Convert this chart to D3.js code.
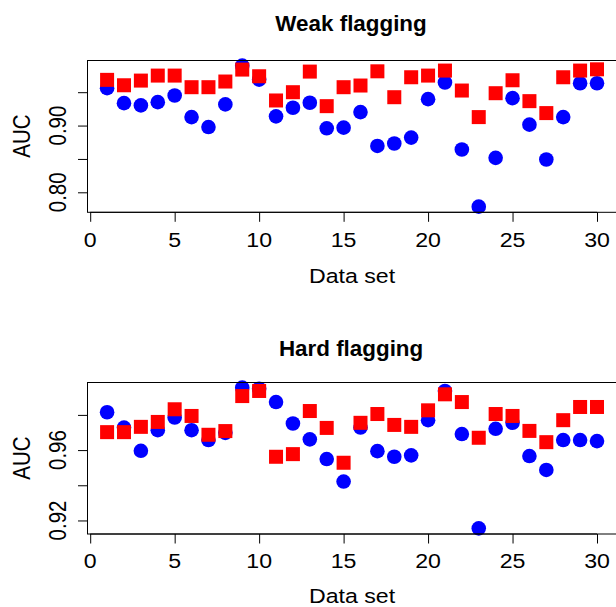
<!DOCTYPE html>
<html>
<head>
<meta charset="utf-8">
<script src="https://cdn.jsdelivr.net/npm/d3@7"></script>
<style>
  html, body { margin: 0; padding: 0; background: #fff; }
  svg { display: block; }
  text { font-family: "Liberation Sans", Arial, Helvetica, sans-serif; fill: #000; }
</style>
</head>
<body>
<svg id="chart" width="616" height="607"></svg>
<script>
// ---- data ----
const dataSets = d3.range(1, 31);
const xTickValues = [0, 5, 10, 15, 20, 25, 30];

const weakTitle = "Weak flagging";
const weakBlue = [0.956, 0.9336, 0.9302, 0.9351, 0.9451, 0.9127, 0.8978, 0.9317, 0.9898, 0.9689,
                  0.9138, 0.9267, 0.9342, 0.8959, 0.8969, 0.9202, 0.8695, 0.8731, 0.8820, 0.9396,
                  0.9645, 0.8641, 0.7785, 0.8516, 0.9411, 0.9014, 0.8492, 0.9127, 0.9634, 0.9634];
const weakRed  = [0.9685, 0.9604, 0.9674, 0.9749, 0.9749, 0.9575, 0.9575, 0.9660, 0.9839, 0.9739,
                  0.9376, 0.9500, 0.9809, 0.9291, 0.9575, 0.9600, 0.9813, 0.9425, 0.9724, 0.9749,
                  0.9824, 0.9525, 0.9127, 0.9485, 0.9679, 0.9366, 0.9187, 0.9724, 0.9824, 0.9843];
const weakYTicks = [0.80, 0.85, 0.90, 0.95];
const weakYTickLabels = ["0.80", "", "0.90", ""];

const hardTitle = "Hard flagging";
const hardBlue = [0.9815, 0.9728, 0.9596, 0.9713, 0.9785, 0.9713, 0.9657, 0.9698, 0.9955, 0.9949,
                  0.9873, 0.9751, 0.9661, 0.9549, 0.9421, 0.9728, 0.9594, 0.9562, 0.9570, 0.9770,
                  0.9936, 0.9691, 0.9155, 0.9721, 0.9755, 0.9566, 0.9487, 0.9657, 0.9657, 0.9651];
const hardRed  = [0.9702, 0.9702, 0.9732, 0.9760, 0.9832, 0.9794, 0.9687, 0.9708, 0.9907, 0.9936,
                  0.9562, 0.9577, 0.9822, 0.9726, 0.9528, 0.9755, 0.9805, 0.9743, 0.9732, 0.9826,
                  0.9917, 0.9873, 0.9670, 0.9805, 0.9794, 0.9709, 0.9645, 0.9770, 0.9845, 0.9845];
const hardYTicks = [0.92, 0.94, 0.96, 0.98];
const hardYTickLabels = ["0.92", "", "0.96", ""];

const xLabel = "Data set";
const yLabel = "AUC";

// ---- layout ----
const svg = d3.select("#chart");
const SX = 1.13;           // horizontal stretch of the reference text
const FS = 20.5;
const left = 87.5, right = 616.6;

function rPad(ext) { const d = ext[1] - ext[0]; return [ext[0] - 0.04 * d, ext[1] + 0.04 * d]; }

const x = d3.scaleLinear().domain(rPad([1, 30])).range([left, right]);

function htext(g, str, tx, ty, opts = {}) {
  const t = g.append("text")
    .attr("transform", `translate(${tx},${ty}) scale(${opts.sx ?? SX},1)`)
    .attr("text-anchor", "middle")
    .style("font-size", (opts.size ?? FS) + "px")
    .text(str);
  if (opts.bold) t.style("font-weight", "bold");
  return t;
}
function vtext(g, str, tx, ty, opts = {}) {
  return g.append("text")
    .attr("transform", `translate(${tx},${ty}) scale(${SX},1) rotate(-90)`)
    .attr("text-anchor", "middle")
    .style("font-size", (opts.size ?? FS) + "px")
    .text(str);
}

const panels = [
  { title: weakTitle, blue: weakBlue, red: weakRed, ticks: weakYTicks, labels: weakYTickLabels,
    top: 60, bottom: 212.3, titleY: 31, tickLabY: 246.7, xLabY: 282.7 },
  { title: hardTitle, blue: hardBlue, red: hardRed, ticks: hardYTicks, labels: hardYTickLabels,
    top: 382, bottom: 534, titleY: 355.5, tickLabY: 568, xLabY: 602.8 }
];

panels.forEach(p => {
  const g = svg.append("g");
  const all = p.blue.concat(p.red);
  const y = d3.scaleLinear().domain(rPad(d3.extent(all))).range([p.bottom, p.top]);
  const cy = (p.top + p.bottom) / 2;
  const cx = (left + right) / 2;

  // points: blue circles then red squares
  g.append("g").selectAll("circle").data(dataSets).join("circle")
    .attr("cx", d => x(d))
    .attr("cy", (d, i) => y(p.blue[i]))
    .attr("r", 7.3)
    .attr("fill", "#0000ff");
  const s = 14;
  g.append("g").selectAll("rect").data(dataSets).join("rect")
    .attr("x", d => x(d) - s / 2)
    .attr("y", (d, i) => y(p.red[i]) - s / 2)
    .attr("width", s).attr("height", s)
    .attr("fill", "#ff0000");

  // box
  g.append("rect")
    .attr("x", left).attr("y", Math.round(p.top) + 0.5)
    .attr("width", right - left).attr("height", p.bottom - Math.round(p.top) - 0.5)
    .attr("fill", "none").attr("stroke", "#000").attr("stroke-width", 1);

  // x axis
  const xa = g.append("g").attr("transform", `translate(0,${p.bottom})`)
    .call(d3.axisBottom(x).tickValues(xTickValues).tickSize(9.5).tickFormat(""));
  xa.select(".domain").remove();
  xa.selectAll("line").attr("stroke", "#000");
  g.append("line")
    .attr("x1", x(xTickValues[0])).attr("x2", x(xTickValues[xTickValues.length - 1]))
    .attr("y1", p.bottom).attr("y2", p.bottom).attr("stroke", "#000");
  xTickValues.forEach(v => htext(g, String(v), x(v), p.tickLabY));

  // y axis
  const ya = g.append("g").attr("transform", `translate(${left},0)`)
    .call(d3.axisLeft(y).tickValues(p.ticks).tickSize(9.5).tickFormat(""));
  ya.select(".domain").remove();
  ya.selectAll("line").attr("stroke", "#000");
  p.ticks.forEach((v, i) => { if (p.labels[i]) vtext(g, p.labels[i], 65.5, y(v)); });

  // labels
  htext(g, xLabel, cx, p.xLabY);
  vtext(g, yLabel, 30, cy);
  htext(g, p.title, cx - 1, p.titleY, { bold: true, size: 22.4, sx: 1 });
});
</script>
</body>
</html>
